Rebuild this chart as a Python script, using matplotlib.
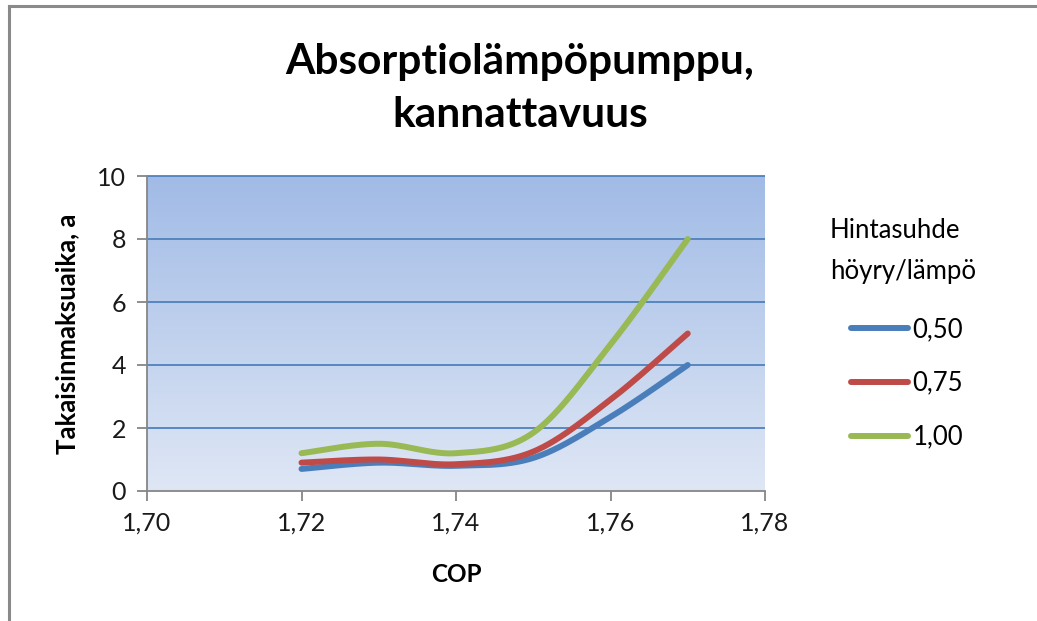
import numpy as np
import matplotlib.pyplot as plt
from matplotlib.colors import LinearSegmentedColormap
from matplotlib.lines import Line2D

# data
cop = [1.72, 1.73, 1.74, 1.75, 1.76, 1.77]
series_labels = ["0,50", "0,75", "1,00"]
payback_050 = [0.7, 0.9, 0.8, 1.05, 2.35, 4.0]
payback_075 = [0.9, 1.0, 0.85, 1.25, 2.9, 5.0]
payback_100 = [1.2, 1.5, 1.2, 1.85, 4.65, 8.0]
series_colors = ["#4a7ebb", "#be4b48", "#98b954"]
x_ticks = [1.70, 1.72, 1.74, 1.76, 1.78]
y_ticks = [0, 2, 4, 6, 8, 10]

plt.rcParams['font.family'] = ['Lato', 'DejaVu Sans']


def smooth(x, y, n=40):
    # Excel-like smoothed line: cubic bezier with catmull-rom control points
    p = np.column_stack([x, y]).astype(float)
    pts = np.vstack([p[0], p, p[-1]])
    t = np.linspace(0, 1, n)[:, None]
    out = []
    for i in range(1, len(pts) - 2):
        p0, p1, p2, p3 = pts[i - 1], pts[i], pts[i + 1], pts[i + 2]
        c1 = p1 + (p2 - p0) / 6.0
        c2 = p2 - (p3 - p1) / 6.0
        seg = ((1 - t) ** 3) * p1 + 3 * ((1 - t) ** 2) * t * c1 + 3 * (1 - t) * t ** 2 * c2 + t ** 3 * p2
        out.append(seg)
    out = np.vstack(out)
    return out[:, 0], out[:, 1]


fig = plt.figure(figsize=(10.37, 6.21), dpi=100)
ax = fig.add_axes([147 / 1037, 1 - 491 / 621, 618 / 1037, 315 / 621])

# gradient plot area
cmap = LinearSegmentedColormap.from_list("bg", ["#dfe7f5", "#a1bbe6"])
grad = np.linspace(0, 1, 256).reshape(-1, 1)
ax.imshow(grad, cmap=cmap, origin='lower', aspect='auto',
          extent=[x_ticks[0], x_ticks[-1], y_ticks[0], y_ticks[-1]], zorder=0)

ax.hlines(y_ticks[1:], x_ticks[0], x_ticks[-1], color="#4f81bd", lw=1.3, zorder=1, clip_on=False)

for vals, col, lab in zip([payback_050, payback_075, payback_100], series_colors, series_labels):
    sx, sy = smooth(cop, vals)
    ax.plot(sx, sy, color=col, lw=4.3, solid_capstyle='round', label=lab, zorder=3)

ax.set_xlim(x_ticks[0], x_ticks[-1])
ax.set_ylim(y_ticks[0], y_ticks[-1])
ax.set_xticks(x_ticks)
ax.set_xticklabels([f"{v:.2f}".replace(".", ",") for v in x_ticks])
ax.set_yticks(y_ticks)
ax.set_yticklabels([str(v) for v in y_ticks])

for s in ['top', 'right']:
    ax.spines[s].set_visible(False)
for s in ['left', 'bottom']:
    ax.spines[s].set_color("#868686")
    ax.spines[s].set_linewidth(1.3)
    ax.spines[s].set_zorder(4)
ax.tick_params(axis='both', direction='out', length=7, width=1.3, color="#868686",
               labelsize=18, labelcolor="#1a1a1a", pad=8)

ax.set_xlabel("COP", fontsize=17.5, fontweight='bold', labelpad=20)
ax.set_ylabel("Takaisinmaksuaika, a", fontsize=18.5, fontweight='bold', labelpad=13)

fig.text(520 / 1037, 1 - 62 / 621, "Absorptiolämpöpumppu,", ha='center', va='center',
         fontsize=30.5, fontweight='bold')
fig.text(520 / 1037, 1 - 115 / 621, "kannattavuus", ha='center', va='center',
         fontsize=30.5, fontweight='bold')

# legend
fig.text(830 / 1037, 1 - 231 / 621, "Hintasuhde", ha='left', va='center', fontsize=18.5)
fig.text(830 / 1037, 1 - 272 / 621, "höyry/lämpö", ha='left', va='center', fontsize=18.5)
fig.legend(loc='upper left', bbox_to_anchor=(851 / 1037, 1 - 317 / 621), frameon=False,
           fontsize=18.5, handlelength=2.2, handletextpad=0.2, labelspacing=1.12,
           borderpad=0, borderaxespad=0)

# outer chart border
fig.add_artist(Line2D([9 / 1037, 9 / 1037], [0, 1 - 6 / 621], color="#8a8a8a", lw=2.2,
                      transform=fig.transFigure))
fig.add_artist(Line2D([9 / 1037, 1], [1 - 6 / 621, 1 - 6 / 621], color="#8a8a8a", lw=2.2,
                      transform=fig.transFigure))

fig.savefig("out.png", dpi=100)
